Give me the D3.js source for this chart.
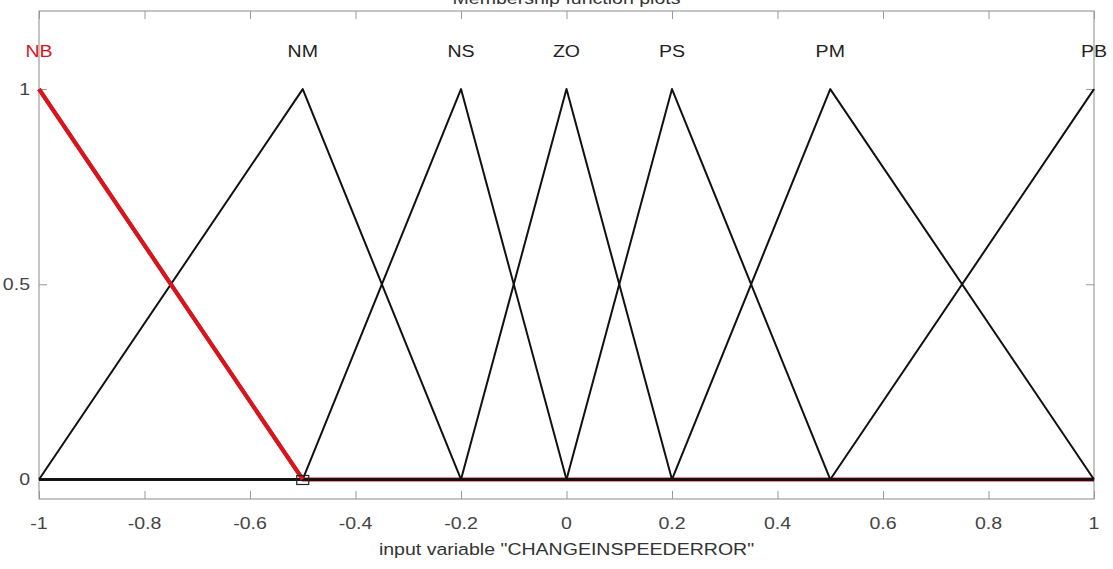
<!DOCTYPE html>
<html><head><meta charset="utf-8">
<script src="https://cdn.jsdelivr.net/npm/d3@7"></script>
<style>
body{margin:0;background:#fff;}
svg{display:block;font-family:"Liberation Sans",Arial,sans-serif;}
</style></head>
<body>
<svg id="c" width="1113" height="569"></svg>
<script>
// membership function names and triangular parameters [a, b, c]
const mfNames = ["NB","NM","NS","ZO","PS","PM","PB"];
const mfA = [-1.5,-1,-0.5,-0.2,0,0.2,0.5];
const mfB = [-1,-0.5,-0.2,0,0.2,0.5,1];
const mfC = [-0.5,-0.2,0,0.2,0.5,1,1.5];
const selectedMF = "NB";
const xTicks = [-1,-0.8,-0.6,-0.4,-0.2,0,0.2,0.4,0.6,0.8,1];
const yTicks = [0,0.5,1];
const xDomain = [-1,1];
const yDomain = [-0.05,1.2];
const xLabel = 'input variable "CHANGEINSPEEDERROR"';
const title = "Membership function plots";

const svg = d3.select("#c");
const L=39, R=1094, T=11, B=499;
const SX = 1.15, FS = 17;
const x = d3.scaleLinear().domain(xDomain).range([L,R]);
const y = d3.scaleLinear().domain(yDomain).range([B,T]);

function stext(px, py, str, anchor, color){
  return svg.append("text")
    .attr("transform",`translate(${px},${py}) scale(${SX},1)`)
    .attr("text-anchor",anchor).attr("font-size",FS).attr("fill",color).text(str);
}

// title (cut at top, as in reference)
stext((L+R)/2, 4, title, "middle", "#333");

// frame
svg.append("rect").attr("x",L).attr("y",T).attr("width",R-L).attr("height",B-T)
  .attr("fill","none").attr("stroke","#8a8a8a").attr("stroke-width",1);

// tick marks via axes
const gx = svg.append("g").attr("transform",`translate(0,${B})`)
  .call(d3.axisBottom(x).tickValues(xTicks).tickSize(-8).tickFormat(""));
const gxt = svg.append("g").attr("transform",`translate(0,${T})`)
  .call(d3.axisTop(x).tickValues(xTicks).tickSize(-8).tickFormat(""));
const gy = svg.append("g").attr("transform",`translate(${L},0)`)
  .call(d3.axisLeft(y).tickValues(yTicks).tickSize(-8).tickFormat(""));
const gyr = svg.append("g").attr("transform",`translate(${R},0)`)
  .call(d3.axisRight(y).tickValues(yTicks).tickSize(-8).tickFormat(""));
[gx,gxt,gy,gyr].forEach(g=>{
  g.select(".domain").remove();
  g.selectAll(".tick line").attr("stroke","#999");
});
// tick labels (stretched like the reference)
xTicks.forEach(v=>stext(x(v), 529, String(v), "middle", "#444"));
yTicks.forEach(v=>stext(L-9, y(v)+6, String(v), "end", "#444"));

// x label
stext((L+R)/2, 555, xLabel, "middle", "#333");

// MF polylines
const line = d3.line().x(d=>x(d[0])).y(d=>y(d[1]));
function mfPoints(i){
  const a=mfA[i], b=mfB[i], c=mfC[i];
  const f = v => Math.max(0, Math.min((v-a)/(b-a), (c-v)/(c-b)));
  const xs = [xDomain[0], a, b, c, xDomain[1]].filter(v=>v>=xDomain[0]&&v<=xDomain[1]);
  const uniq = Array.from(new Set(xs)).sort((p,q)=>p-q);
  return uniq.map(v=>[v,f(v)]);
}
const sel = mfNames.indexOf(selectedMF);
svg.append("path").attr("d",line(mfPoints(sel))).attr("fill","none")
  .attr("stroke","#d8141c").attr("stroke-width",4).attr("stroke-linejoin","round");
mfNames.forEach((n,i)=>{
  if(i===sel) return;
  svg.append("path").attr("d",line(mfPoints(i))).attr("fill","none")
    .attr("stroke","#111").attr("stroke-width",2).attr("stroke-linejoin","round");
});
svg.append("path").attr("d",line(mfPoints(sel).filter(p=>p[0]<=mfC[sel]))).attr("fill","none")
  .attr("stroke","#d8141c").attr("stroke-width",4);
svg.append("rect").attr("x",x(mfC[sel])-6).attr("y",y(0)-4).attr("width",12).attr("height",9)
  .attr("fill","none").attr("stroke","#222").attr("stroke-width",1.2);

// MF labels
mfNames.forEach((n,i)=>{
  stext(x(mfB[i]), 57, n, "middle", i===sel?"#d8141c":"#222");
});
</script>
</body></html>
